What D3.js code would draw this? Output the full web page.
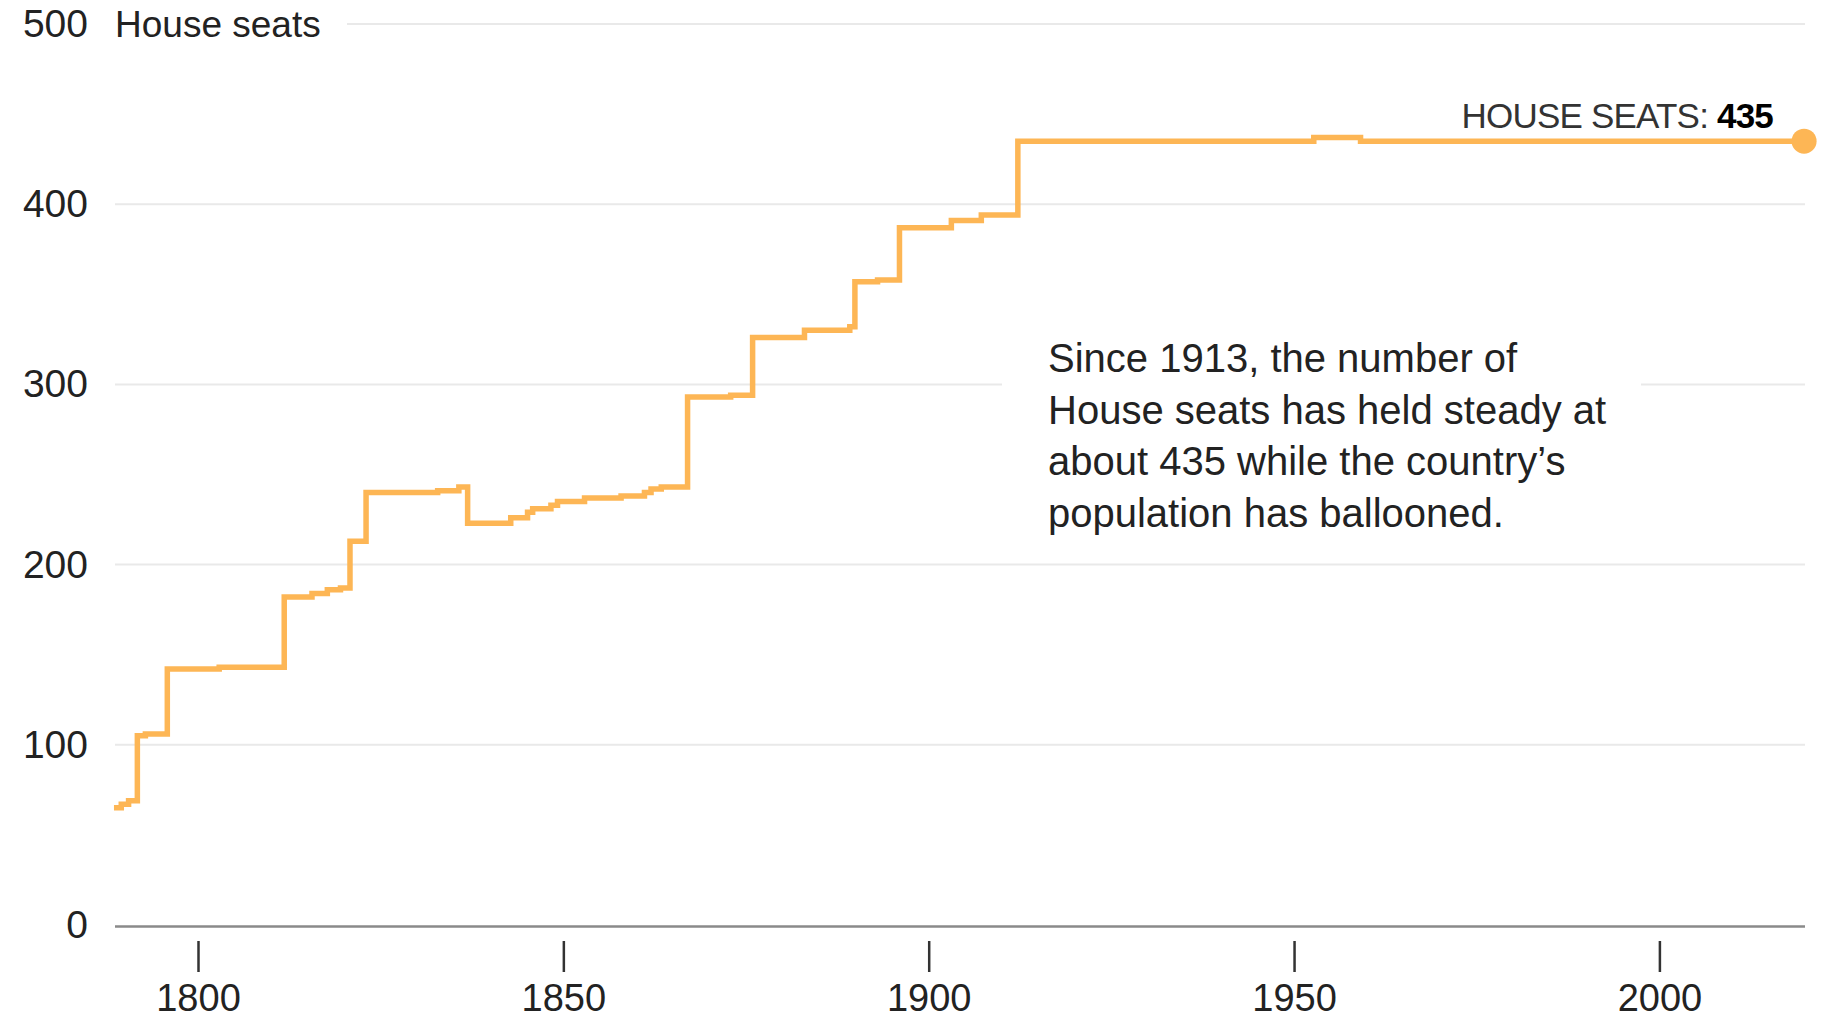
<!DOCTYPE html>
<html>
<head>
<meta charset="utf-8">
<script src="https://cdn.jsdelivr.net/npm/d3@7"></script>
<style>
  html, body { margin: 0; padding: 0; background: #fff; }
  svg { display: block; }
  text { font-family: "Liberation Sans", Arial, Helvetica, sans-serif; }
</style>
</head>
<body>
<svg id="chart" width="1826" height="1018"></svg>
<script>
// ---- Data ----
const stepYears = [1788.5, 1789.5, 1790.5, 1791.7, 1792.8, 1795.8, 1802.9, 1811.8, 1815.6, 1817.7,
  1819.5, 1820.8, 1823.0, 1832.8, 1835.7, 1836.9, 1842.8, 1845.1, 1845.8, 1848.3,
  1849.2, 1852.9, 1857.9, 1861.1, 1862.0, 1863.4, 1867.0, 1872.9, 1875.9, 1883.0,
  1889.2, 1889.9, 1893.0, 1896.0, 1903.1, 1907.2, 1912.2, 1952.7, 1959.1, 2019.8];
const stepSeats = [65, 67, 69, 105, 106, 142, 143, 182, 184, 186,
  187, 213, 240, 241, 243, 223, 226, 229, 231, 233,
  235, 237, 238, 240, 242, 243, 293, 294, 326, 330,
  332, 357, 358, 387, 391, 394, 435, 437, 435, 435];
const xTicks = [1800, 1850, 1900, 1950, 2000];
const yTicks = [0, 100, 200, 300, 400, 500];
const yTitle = "House seats";
const endLabel = "HOUSE SEATS: ";
const endValue = 435;
const noteLines = ["Since 1913, the number of", "House seats has held steady at",
  "about 435 while the country\u2019s", "population has ballooned."];

// ---- Layout ----
const svg = d3.select("#chart");
const left = 115, right = 1805;
const x = d3.scaleLinear().domain([1800, 2000]).range([198, 1659.4]);
const y = d3.scaleLinear().domain([0, 500]).range([925, 24]);
const lineColor = "#fdb655";
const textColor = "#222";
const fontSize = 39;

const data = stepYears.map((yr, i) => ({ year: yr, seats: stepSeats[i] }));

// Gridlines
const noteX = 1048, noteGapL = 1002, noteGapR = 1641;
const gridG = svg.append("g");
yTicks.filter(d => d !== 0).forEach(d => {
  let segs;
  if (d === 500) segs = [[347, right]];
  else if (d === 300) segs = [[left, noteGapL], [noteGapR, right]];
  else segs = [[left, right]];
  segs.forEach(s => {
    gridG.append("line")
      .attr("x1", s[0]).attr("x2", s[1])
      .attr("y1", y(d)).attr("y2", y(d))
      .attr("stroke", "#e9e9e9").attr("stroke-width", 2);
  });
});

// Baseline
svg.append("line")
  .attr("x1", left).attr("x2", right)
  .attr("y1", y(0) + 1.5).attr("y2", y(0) + 1.5)
  .attr("stroke", "#8a8a8a").attr("stroke-width", 2.5);

// Y axis labels
const yAxis = svg.append("g")
  .attr("transform", `translate(${left},0)`)
  .call(d3.axisLeft(y).tickValues(yTicks).tickSize(0).tickPadding(27));
yAxis.select(".domain").remove();
yAxis.selectAll("text")
  .attr("font-size", fontSize).attr("fill", textColor)
  .style("font-family", '"Liberation Sans", Arial, sans-serif');

// Y title
svg.append("text")
  .attr("x", 115).attr("y", y(500)).attr("dy", "0.34em")
  .attr("font-size", 37).attr("fill", textColor)
  .text(yTitle);

// X axis
const xAxis = svg.append("g")
  .attr("transform", `translate(0,941)`)
  .call(d3.axisBottom(x).tickValues(xTicks).tickFormat(d3.format("d")).tickSize(31).tickPadding(12));
xAxis.select(".domain").remove();
xAxis.selectAll(".tick line").attr("stroke", "#333").attr("stroke-width", 2.5);
xAxis.selectAll("text")
  .attr("font-size", 38).attr("fill", textColor)
  .style("font-family", '"Liberation Sans", Arial, sans-serif');

// Step line
const line = d3.line()
  .x(d => x(d.year)).y(d => y(d.seats))
  .curve(d3.curveStepAfter);
svg.append("path")
  .datum(data)
  .attr("d", line)
  .attr("fill", "none")
  .attr("stroke", lineColor)
  .attr("stroke-width", 5.5)
  .attr("stroke-linejoin", "miter");

// End dot
const last = data[data.length - 1];
svg.append("circle")
  .attr("cx", x(last.year)).attr("cy", y(last.seats))
  .attr("r", 12.5).attr("fill", lineColor);

// End label
const lab = svg.append("text")
  .attr("x", 1773).attr("y", 128)
  .attr("text-anchor", "end")
  .attr("font-size", 35)
  .attr("letter-spacing", -0.8);
lab.append("tspan").attr("fill", "#333").text(endLabel);
lab.append("tspan").attr("fill", "#000").attr("font-weight", "bold").text(endValue);

// Annotation
const note = svg.append("text")
  .attr("x", noteX).attr("y", 372)
  .attr("font-size", 40).attr("fill", textColor);
noteLines.forEach((t, i) => {
  note.append("tspan").attr("x", noteX).attr("dy", i === 0 ? 0 : 51.5).text(t);
});
</script>
</body>
</html>
